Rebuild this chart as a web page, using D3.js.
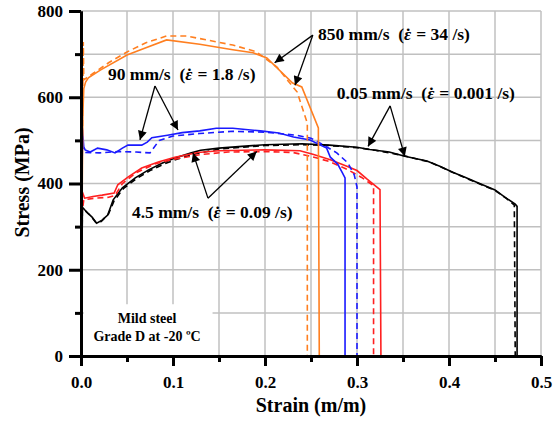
<!DOCTYPE html>
<html>
<head>
<meta charset="utf-8">
<script src="https://cdn.jsdelivr.net/npm/d3@7"></script>
<style>
  html, body { margin: 0; padding: 0; background: #fff; }
  svg { display: block; font-family: "Liberation Serif", "Times New Roman", serif; }
  .ann { white-space: pre; }
</style>
</head>
<body>
<svg id="chart" width="560" height="421"></svg>
<script>
// Stress-strain curves, mild steel grade D at -20 °C, two tests per loading rate
// (solid = test 1, dashed = test 2). Each point is [strain (m/m), stress (MPa)].
const slowSolid = [[0,0],[0.001,200],[0.0015,345],[0.004,339],[0.008,330],[0.012,322],[0.017,308],[0.023,315],[0.029,327],[0.035,362],[0.045,390],[0.059,413],[0.073,431],[0.088,447],[0.102,459],[0.12,471],[0.13,477],[0.15,482],[0.175,486],[0.2,490],[0.22,491],[0.24,492],[0.27,489],[0.3,484],[0.314,479],[0.335,473],[0.352,463],[0.376,452],[0.39,440],[0.404,426],[0.418,414],[0.43,403],[0.45,385],[0.461,368],[0.472,352],[0.474,347],[0.474,0]];
const slowDashed = [[0,0],[0.001,220],[0.0015,340],[0.005,336],[0.01,326],[0.016,310],[0.022,312],[0.03,330],[0.036,360],[0.046,388],[0.06,411],[0.075,430],[0.09,445],[0.105,457],[0.125,469],[0.15,480],[0.18,485],[0.2,488],[0.24,490],[0.27,488],[0.3,483],[0.32,477],[0.35,465],[0.38,449],[0.405,425],[0.43,402],[0.45,384],[0.462,366],[0.471,350],[0.472,0]];

const midSolid = [[0,0],[0.001,300],[0.0015,380],[0.004,366],[0.013,370],[0.023,373],[0.036,378],[0.04,397],[0.051,415],[0.066,436],[0.084,450],[0.102,461],[0.127,472],[0.15,476],[0.2,478],[0.238,476],[0.252,468],[0.271,455],[0.289,440],[0.3,430],[0.311,410],[0.325,386],[0.326,0]];
const midDashed = [[0,0],[0.001,330],[0.003,362],[0.015,366],[0.03,368],[0.037,372],[0.045,400],[0.06,425],[0.08,445],[0.1,456],[0.13,467],[0.16,473],[0.2,474],[0.23,472],[0.25,463],[0.27,451],[0.29,432],[0.305,414],[0.318,395],[0.318,0]];

const fastSolid = [[0,0],[0.001,300],[0.0015,528],[0.003,485],[0.0045,478],[0.01,473],[0.018,482],[0.028,478],[0.037,471],[0.045,482],[0.051,489],[0.066,489],[0.072,496],[0.077,506],[0.094,512],[0.11,518],[0.129,522],[0.147,528],[0.165,528],[0.195,522],[0.215,517],[0.231,508],[0.249,501],[0.267,482],[0.271,461],[0.279,445],[0.284,425],[0.287,413],[0.287,0]];
const fastDashed = [[0,0],[0.001,400],[0.0015,490],[0.004,472],[0.02,471],[0.04,474],[0.06,473],[0.075,471],[0.085,500],[0.1,510],[0.129,516],[0.165,521],[0.2,519],[0.234,512],[0.25,505],[0.264,489],[0.278,471],[0.29,448],[0.297,420],[0.3,392],[0.3,0]];

const impactSolid = [[0,0],[0.001,300],[0.002,560],[0.003,620],[0.005,635],[0.008,645],[0.021,663],[0.05,698],[0.067,712],[0.093,733],[0.129,723],[0.165,710],[0.187,703],[0.202,691],[0.23,633],[0.24,624],[0.258,529],[0.259,0]];
const impactDashed = [[0,0],[0.001,400],[0.002,600],[0.0025,728],[0.003,640],[0.006,645],[0.013,655],[0.03,680],[0.05,705],[0.07,726],[0.093,742],[0.115,742],[0.165,721],[0.19,706],[0.213,670],[0.227,633],[0.235,612],[0.246,540],[0.246,0]];

const seriesNames = ["0.05 mm/s", "4.5 mm/s", "90 mm/s", "850 mm/s"];
const seriesColors = ["#000000", "#ff2020", "#1a1aff", "#ff7f20"];
const seriesData = [[slowSolid, slowDashed], [midSolid, midDashed], [fastSolid, fastDashed], [impactSolid, impactDashed]];

const xMajorTicks = [0, 0.1, 0.2, 0.3, 0.4, 0.5];
const xMinorTicks = [0.05, 0.15, 0.25, 0.35, 0.45];
const yMajorTicks = [0, 200, 400, 600, 800];
const yMinorTicks = [100, 300, 500, 700];

// Callout labels: text anchor and arrow tail / heads, all in data units.
const annotations = [
  { speed: "850 mm/s", rate: "34", at: [0.2576, 733], tail: [0.252, 744], heads: [[0.2105, 680], [0.2326, 628]] },
  { speed: "90 mm/s", rate: "1.8", at: [0.0293, 640], tail: [0.0804, 626], heads: [[0.0641, 501], [0.1054, 524]] },
  { speed: "0.05 mm/s", rate: "0.001", at: [0.278, 595], tail: [0.336, 580], heads: [[0.312, 486], [0.352, 463]] },
  { speed: "4.5 mm/s", rate: "0.09", at: [0.0554, 321], tail: [0.138, 366], heads: [[0.1217, 471], [0.191, 474]] }
];

const svg = d3.select("#chart");
const x = d3.scaleLinear().domain([0, 0.5]).range([81, 541]);
const y = d3.scaleLinear().domain([0, 800]).range([356, 11]);

// grid
const grid = svg.append("g").attr("stroke", "#c0c0c0").attr("stroke-width", 1.5);
grid.selectAll(".gx").data(d3.range(1, 11).map(i => i * 0.05)).join("line")
  .attr("x1", d => x(d)).attr("x2", d => x(d)).attr("y1", y(0)).attr("y2", y(800));
grid.selectAll(".gy").data(d3.range(1, 9).map(i => i * 100)).join("line")
  .attr("x1", x(0)).attr("x2", x(0.5)).attr("y1", d => y(d)).attr("y2", d => y(d));

// material note box
const note = svg.append("g");
note.append("rect").attr("x", x(0.003)).attr("y", y(120)).attr("width", x(0.143) - x(0.003)).attr("height", y(2) - y(120)).attr("fill", "#fff");
note.append("text").attr("x", x(0.0718)).attr("y", y(76)).attr("text-anchor", "middle")
  .attr("font-size", 14).attr("font-weight", "bold").text("Mild steel");
note.append("text").attr("x", x(0.0718)).attr("y", y(34)).attr("text-anchor", "middle")
  .attr("font-size", 14).attr("font-weight", "bold").text("Grade D at -20 ºC");

// curves
const line = d3.line().x(d => x(d[0])).y(d => y(d[1]));
seriesData.forEach((pair, i) => {
  const g = svg.append("g").attr("class", "series").attr("data-name", seriesNames[i]);
  g.append("path").datum(pair[1]).attr("d", line).attr("fill", "none")
    .attr("stroke", seriesColors[i]).attr("stroke-width", 1.6).attr("stroke-dasharray", "6,4");
  g.append("path").datum(pair[0]).attr("d", line).attr("fill", "none")
    .attr("stroke", seriesColors[i]).attr("stroke-width", 1.6);
});

// axes
const fmtX = d3.format(".1f");
svg.append("g").attr("transform", `translate(0,${y(0)})`)
  .call(d3.axisBottom(x).tickValues(xMajorTicks).tickSize(10).tickSizeOuter(0).tickPadding(10).tickFormat(fmtX));
svg.append("g").attr("transform", `translate(0,${y(0)})`)
  .call(d3.axisBottom(x).tickValues(xMinorTicks).tickSize(6).tickSizeOuter(0).tickFormat(""));
svg.append("g").attr("transform", `translate(${x(0)},0)`)
  .call(d3.axisLeft(y).tickValues(yMajorTicks).tickSize(12).tickSizeOuter(0).tickPadding(6).tickFormat(d3.format("d")));
svg.append("g").attr("transform", `translate(${x(0)},0)`)
  .call(d3.axisLeft(y).tickValues(yMinorTicks).tickSize(6).tickSizeOuter(0).tickFormat(""));
svg.selectAll(".domain").attr("stroke", "#000").attr("stroke-width", 3);
svg.selectAll(".tick line").attr("stroke", "#000").attr("stroke-width", 3);
svg.selectAll("g[font-family]").attr("font-family", null);
svg.selectAll(".tick text").attr("font-size", 17).attr("font-weight", "bold").attr("fill", "#000");

// axis titles
svg.append("text").attr("x", 311).attr("y", 412).attr("text-anchor", "middle")
  .attr("font-size", 20).attr("font-weight", "bold").text("Strain (m/m)");
svg.append("text").attr("transform", `translate(29,${y(400) - 1}) rotate(-90)`).attr("text-anchor", "middle")
  .attr("font-size", 20).attr("font-weight", "bold").text("Stress (MPa)");

// callouts
const defs = svg.append("defs");
defs.append("marker").attr("id", "head").attr("viewBox", "0 0 10 10").attr("refX", 10).attr("refY", 5)
  .attr("markerWidth", 13).attr("markerHeight", 9).attr("markerUnits", "userSpaceOnUse").attr("orient", "auto")
  .append("path").attr("d", "M0,0 L10,5 L0,10 z").attr("fill", "#000");

annotations.forEach(a => {
  const g = svg.append("g");
  a.heads.forEach(h => {
    g.append("line").attr("x1", x(a.tail[0])).attr("y1", y(a.tail[1]))
      .attr("x2", x(h[0])).attr("y2", y(h[1]))
      .attr("stroke", "#000").attr("stroke-width", 1.3).attr("marker-end", "url(#head)");
  });
  const t = g.append("text").attr("class", "ann").attr("x", x(a.at[0])).attr("y", y(a.at[1]))
    .attr("font-size", 17.5).attr("font-weight", "bold");
  t.append("tspan").text(a.speed + "  (");
  t.append("tspan").attr("font-style", "italic").text("\u03B5");
  t.append("tspan").attr("dx", "-0.34em").text("\u02D9");
  t.append("tspan").attr("dx", "0.04em").text(" = " + a.rate + " /s)");
});
</script>
</body>
</html>
